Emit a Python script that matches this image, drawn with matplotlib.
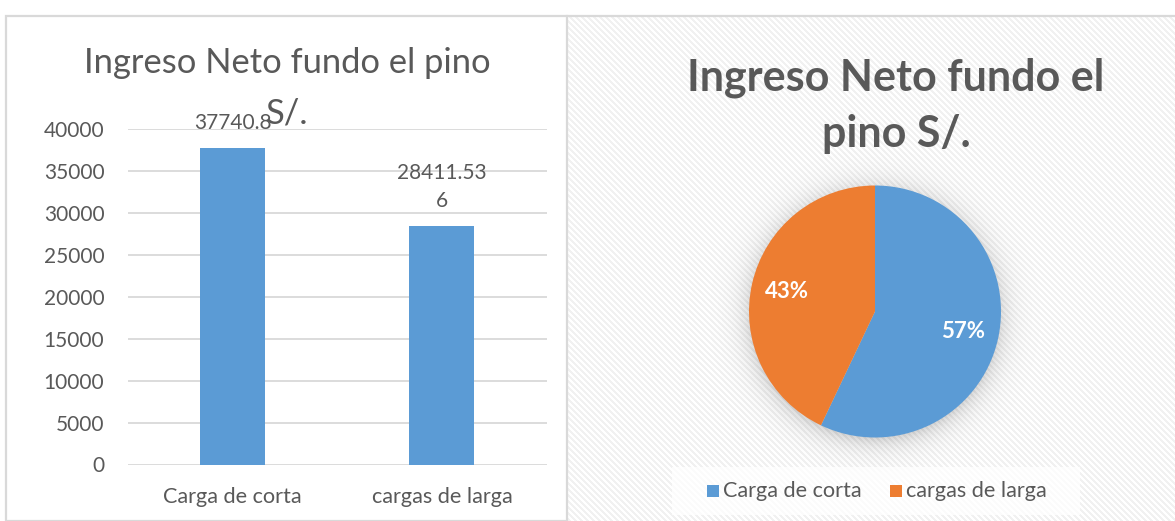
import numpy as np
import matplotlib
matplotlib.use("Agg")
import matplotlib.pyplot as plt
from matplotlib.patches import Rectangle
import textwrap

# ---------------- data ----------------
categories = ["Carga de corta", "cargas de larga"]
values = [37740.8, 28411.536]
value_labels = ["37740.8", "28411.536"]
bar_title_line1 = "Ingreso Neto fundo el pino"
bar_title_line2 = "S/."
pie_title_line1 = "Ingreso Neto fundo el"
pie_title_line2 = "pino S/."
yticks = [0, 5000, 10000, 15000, 20000, 25000, 30000, 35000, 40000]

BLUE = "#5B9BD5"
ORANGE = "#ED7D31"
TXT = "#595959"
GRID = "#D9D9D9"
FONT = "Lato"

W, H = 1175, 521
fig = plt.figure(figsize=(W / 100, H / 100), dpi=100)
fig.patch.set_facecolor("white")

def fx(x):
    return x / W

def fy(y):
    return 1 - y / H

# ---------------- right panel hatched background ----------------
bg = fig.add_axes([fx(568), 0, fx(W - 568), fy(16)])
bg.set_axis_off()
hw, hh = W - 568, 521 - 16
yy, xx = np.mgrid[0:hh, 0:hw]
stripe = ((xx - yy) % 6) < 3
img = np.ones((hh, hw, 3))
img[stripe] = np.array([0xF1, 0xF1, 0xF1]) / 255.0
bg.imshow(img, extent=[0, hw, hh, 0], interpolation="nearest", aspect="auto")
bg.set_xlim(0, hw)
bg.set_ylim(hh, 0)

# panel borders
fig.patches.append(Rectangle((fx(6), 0), fx(567 - 6), fy(16), transform=fig.transFigure,
                             fill=False, edgecolor=GRID, linewidth=1.6, zorder=5))
fig.lines.append(plt.Line2D([fx(567), fx(W)], [fy(16), fy(16)], transform=fig.transFigure,
                            color=GRID, linewidth=1.6, zorder=5))

# ---------------- bar chart ----------------
x0, x1 = 128, 546.5
y0, y1 = 129.3, 464.5
ax = fig.add_axes([fx(x0), fy(y1), fx(x1) - fx(x0), fy(y0) - fy(y1)])
ax.set_facecolor("none")
pos = np.arange(len(categories))
bars = ax.bar(pos, values, width=0.31, color=BLUE, zorder=3)
ax.set_xlim(-0.5, len(categories) - 0.5)
ax.set_ylim(0, 40000)
ax.set_yticks(yticks)
ax.set_yticklabels([str(t) for t in yticks])
ax.set_xticks(pos)
ax.set_xticklabels(categories)
ax.grid(axis="y", color=GRID, linewidth=1.3, zorder=0)
for s in ax.spines.values():
    s.set_visible(False)
ax.tick_params(axis="y", length=0, pad=17, labelsize=15, labelcolor=TXT)
ax.tick_params(axis="x", length=0, pad=16, labelsize=15.6, labelcolor=TXT)
for lab in ax.get_xticklabels() + ax.get_yticklabels():
    lab.set_fontfamily(FONT)

for b, lbl in zip(bars, value_labels):
    lines = textwrap.wrap(lbl, 8)
    n = len(lines)
    for i, line in enumerate(lines):
        off = 19 + (n - 1 - i) * 28  # px above bar top (baseline)
        ax.annotate(line, (b.get_x() + b.get_width() / 2, b.get_height()),
                    xytext=(0, off * 0.72), textcoords="offset points",
                    ha="center", va="baseline", fontsize=15, color=TXT,
                    fontfamily=FONT, zorder=4)

fig.text(fx(287), fy(73), bar_title_line1, ha="center", va="baseline",
         fontsize=24.8, color=TXT, fontfamily=FONT)
fig.text(fx(287), fy(124), bar_title_line2, ha="center", va="baseline",
         fontsize=24.8, color=TXT, fontfamily=FONT)

# ---------------- pie chart ----------------
cx, cy, R = 875, 311.5, 126
lim = 1.45
side = 2 * lim * R
pax = fig.add_axes([fx(cx - side / 2), fy(cy + side / 2), fx(side), side / H])
pax.set_axis_off()

# soft shadow
n = 400
g = np.linspace(-lim, lim, n)
gx, gy = np.meshgrid(g, g)
r = np.hypot(gx, gy + 0.03)
alpha = np.where(r > 0.98, 0.16 * np.exp(-np.clip(r - 0.98, 0, None) / 0.09), 0.16)
shadow = np.zeros((n, n, 4))
shadow[..., 3] = alpha
pax.imshow(shadow, extent=[-lim, lim, -lim, lim], origin="lower", zorder=0)

wedges, texts, autotexts = pax.pie(values, colors=[BLUE, ORANGE], startangle=90,
                                   counterclock=False, autopct="%1.0f%%",
                                   pctdistance=0.72, radius=1.0,
                                   wedgeprops=dict(linewidth=0),
                                   textprops=dict(color="white", fontsize=16,
                                                  fontweight="bold", fontfamily=FONT))
for w in wedges:
    w.set_zorder(2)
for t in autotexts:
    t.set_zorder(3)
pax.set_xlim(-lim, lim)
pax.set_ylim(-lim, lim)
pax.set_aspect("equal")

fig.text(fx(896), fy(91), pie_title_line1, ha="center", va="baseline",
         fontsize=31, fontweight="bold", color=TXT, fontfamily=FONT)
fig.text(fx(896), fy(147), pie_title_line2, ha="center", va="baseline",
         fontsize=31, fontweight="bold", color=TXT, fontfamily=FONT)

# legend box
fig.patches.append(Rectangle((fx(672), fy(515)), fx(1080 - 672), (515 - 467) / H,
                             transform=fig.transFigure, facecolor="white",
                             edgecolor="none", alpha=0.75, zorder=4))
leg_items = [(707, BLUE, categories[0]), (890, ORANGE, categories[1])]
for lx, col, name in leg_items:
    fig.patches.append(Rectangle((fx(lx), fy(497)), fx(12), 12 / H,
                                 transform=fig.transFigure, facecolor=col,
                                 edgecolor="none", zorder=5))
    fig.text(fx(lx + 16), fy(497), name, ha="left", va="baseline", fontsize=15.6,
             color=TXT, fontfamily=FONT, zorder=6)

fig.savefig("out.png", dpi=100, facecolor="white")
